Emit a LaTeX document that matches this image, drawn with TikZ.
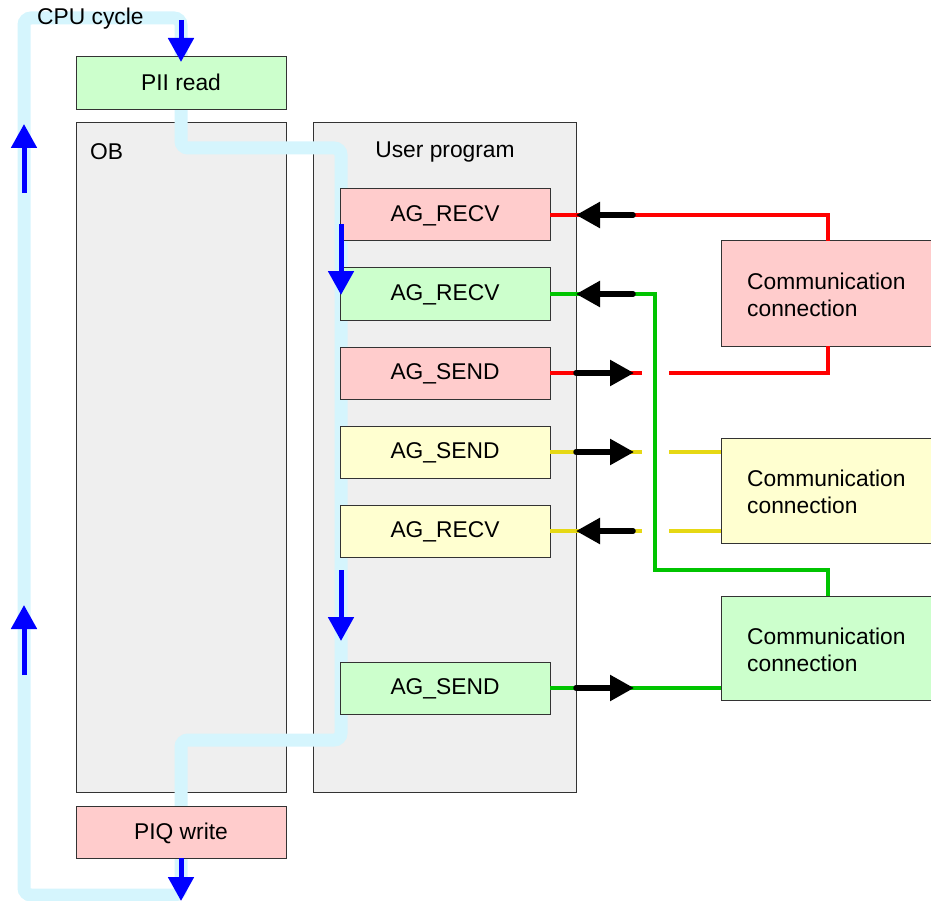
\documentclass[tikz,border=0pt]{standalone}
\usepackage{fontspec}
\setmainfont{Liberation Sans}
\usetikzlibrary{arrows.meta,calc}
\definecolor{boxred}{RGB}{255,204,204}
\definecolor{boxgreen}{RGB}{204,255,204}
\definecolor{boxyellow}{RGB}{255,255,208}
\definecolor{boxgray}{RGB}{239,239,239}
\definecolor{cyclecol}{RGB}{213,245,253}
\definecolor{lred}{RGB}{255,0,0}
\definecolor{lgreen}{RGB}{0,196,0}
\definecolor{lyellow}{RGB}{230,216,20}
\definecolor{bordercol}{RGB}{51,51,51}
\definecolor{bluearr}{RGB}{0,0,255}
\pgfdeclarelayer{bg}
\pgfdeclarelayer{cyc}
\pgfsetlayers{bg,cyc,main}
\begin{document}
\begin{tikzpicture}[x=1pt,y=-1pt,
  every node/.style={font=\fontsize{22.8}{27.5}\selectfont},
  blk/.style={draw=bordercol,line width=1pt,inner sep=0pt,outer sep=0pt,anchor=north west},
  agbox/.style={blk,minimum width=210pt,minimum height=52pt,text depth=2pt},
  bigbox/.style={blk,fill=boxgray,minimum width=#1,minimum height=669pt},
  commbox/.style={blk,minimum width=214pt,minimum height=105pt},
  label/.style={inner sep=0pt,anchor=west},
  commtext/.style={inner sep=0pt,anchor=west,align=left},
  cyc/.style={draw=cyclecol,line width=13pt,rounded corners=7pt},
  barrow/.style={draw=bluearr,line width=5pt,-{Triangle[length=24pt,width=25pt]}},
  karrow/.style={draw=black,line width=5.5pt,line cap=round,-{Triangle[length=24pt,width=25pt]}},
  redl/.style={draw=lred,line width=3.5pt},
  greenl/.style={draw=lgreen,line width=3.5pt},
  yell/.style={draw=lyellow,line width=4pt}
]
\useasboundingbox (0,0) rectangle (931,901);

% big boxes
\begin{pgfonlayer}{bg}
\node[bigbox=210pt] (ob) at (76,123) {};
\node[bigbox=263pt] (up) at (313,123) {};
\end{pgfonlayer}
\node[label] (oblabel) at (90,152) {OB};
\node[inner sep=0pt] (uplabel) at (445,152) {User program};

% PII / PIQ
\node[agbox,fill=boxgreen,minimum height=53pt] (pii) at (76,57) {PII read};
\node[agbox,fill=boxred,minimum height=52pt] (piq) at (76,806) {PIQ write};
\node[label] (cpulabel) at (37,19) {CPU cycle};

% AG boxes
\node[agbox,fill=boxred] (r1) at (340,189) {AG\_RECV};
\node[agbox,fill=boxgreen] (r2) at (340,268) {AG\_RECV};
\node[agbox,fill=boxred] (s1) at (340,347) {AG\_SEND};
\node[agbox,fill=boxyellow] (s2) at (340,426) {AG\_SEND};
\node[agbox,fill=boxyellow] (r3) at (340,505) {AG\_RECV};
\node[agbox,fill=boxgreen] (s4) at (340,662) {AG\_SEND};

% communication boxes
\node[commbox,fill=boxred] (rc) at (721,241) {};
\node[commbox,fill=boxyellow] (yc) at (721,438) {};
\node[commbox,fill=boxgreen,minimum height=104pt] (gc) at (721,596) {};
\node[commtext] (rct) at (747,295) {Communication\\connection};
\node[commtext] (yct) at (747,492) {Communication\\connection};
\node[commtext] (gct) at (747,650) {Communication\\connection};

% CPU cycle path
\coordinate (cbl) at (24,895);
\coordinate (ctl) at (24,18);
\coordinate (c1) at (341,148);
\coordinate (c2) at (341,740);
\begin{pgfonlayer}{cyc}
\draw[cyc] (piq.south) |- (cbl) -- (ctl) -| (pii.north);
\draw[cyc] (pii.south) |- (c1) -- (c2) -| (piq.north);
\end{pgfonlayer}

% blue arrows
\coordinate (ba1s) at (181,20);
\coordinate (ba1e) at (181,62);
\coordinate (ba2s) at (24,193);
\coordinate (ba2e) at (24,124);
\coordinate (ba3s) at (24,675);
\coordinate (ba3e) at (24,605);
\coordinate (ba4s) at (341,224);
\coordinate (ba4e) at (341,295);
\coordinate (ba5s) at (341,570);
\coordinate (ba5e) at (341,641);
\coordinate (ba6e) at (181,901);
\draw[barrow] (ba1s) -- (ba1e);
\draw[barrow] (ba2s) -- (ba2e);
\draw[barrow] (ba3s) -- (ba3e);
\draw[barrow] (ba4s) -- (ba4e);
\draw[barrow] (ba5s) -- (ba5e);
\draw[barrow] (piq.south) -- (ba6e);

% colored connection lines
\coordinate (rg1) at (642,373);
\coordinate (rg2) at (669,373);
\coordinate (gk) at (655,570);
\coordinate (yg1) at (642,452);
\coordinate (yg2) at (669,452);
\coordinate (yg3) at (642,531);
\coordinate (yg4) at (669,531);
\draw[redl] (r1.east) -| (rc.north);
\draw[redl] (s1.east) -- (rg1);
\draw[redl] (rg2) -| (rc.south);
\draw[greenl] (r2.east) -| (gk) -| (gc.north);
\draw[greenl] (s4.east) -- (s4.east -| gc.west);
\draw[yell] (s2.east) -- (yg1);
\draw[yell] (yg2) -- (yg2 -| yc.west);
\draw[yell] (r3.east) -- (yg3);
\draw[yell] (yg4) -- (yg4 -| yc.west);

% black arrows
\coordinate (k1) at (633,215);
\coordinate (k2) at (633,294);
\coordinate (k3) at (634,373);
\coordinate (k4) at (634,452);
\coordinate (k5) at (633,531);
\coordinate (k6) at (634,688);
\draw[karrow] (k1) -- (k1 -| up.east);
\draw[karrow] (k2) -- (k2 -| up.east);
\draw[karrow] (s1.east -| up.east) -- (k3);
\draw[karrow] (s2.east -| up.east) -- (k4);
\draw[karrow] (k5) -- (k5 -| up.east);
\draw[karrow] (s4.east -| up.east) -- (k6);
\end{tikzpicture}
\end{document}
